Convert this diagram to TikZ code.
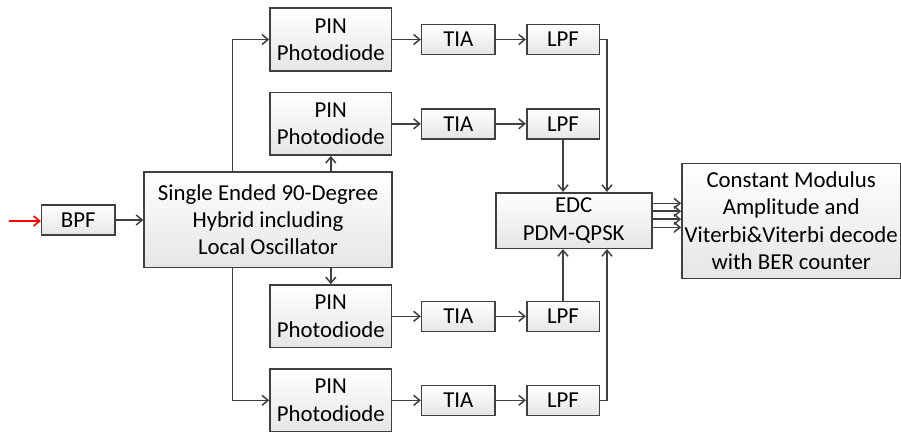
\documentclass[tikz,border=0pt]{standalone}
\usepackage{fontspec}
\setmainfont{Carlito}
\usetikzlibrary{arrows.meta}
\definecolor{bord}{HTML}{404040}
\begin{document}
\begin{tikzpicture}[x=1pt,y=-1pt,
  blk/.style={draw=bord, line width=1.6pt, top color=white, bottom color=black!10,
    inner sep=0pt, align=center, font=\fontsize{22.8}{27.3}\selectfont},
  conn/.style={draw=bord, line width=1.5pt, -{Straight Barb[length=6pt,width=10pt,line width=1.5pt]}},
  plain/.style={draw=bord, line width=1.5pt}]
\useasboundingbox (0,0) rectangle (901,432);
\node[blk, minimum width=73.3pt, minimum height=30pt] (bpf) at (78.3,220) {BPF};
\node[blk, minimum width=247.7pt, minimum height=95.6pt] (hyb) at (268,219.5) {Single Ended 90-Degree\\Hybrid including\\Local Oscillator};
\foreach \i/\y in {1/39.5,2/123.8,3/316.3,4/400.3}{
  \node[blk, minimum width=121.7pt, minimum height=62.5pt] (pin\i) at (330.8,\y) {PIN\\Photodiode};
  \node[blk, minimum width=73.3pt, minimum height=30pt] (tia\i) at (458.3,\y) {TIA};
  \node[blk, minimum width=72.6pt, minimum height=30pt] (lpf\i) at (563,\y) {LPF};
  \draw[conn] (pin\i) -- (tia\i);
  \draw[conn] (tia\i) -- (lpf\i);
}
\node[blk, minimum width=156pt, minimum height=55.6pt] (edc) at (573.7,220.5) {EDC\\PDM-QPSK};
\node[blk, minimum width=218.5pt, minimum height=115pt] (cm) at (791.2,220.8) {Constant Modulus\\Amplitude and\\Viterbi\&Viterbi decode\\with BER counter};
\coordinate (in) at (9,221);
\draw[draw=red, line width=1.8pt, -{Straight Barb[length=6pt,width=10pt,line width=1.6pt]}] (in) -- (bpf.west |- in);
\draw[conn] (bpf) -- (hyb.west |- bpf);
\draw[conn] (232.5,0 |- hyb.north) |- (pin1.west);
\draw[conn] (232.5,0 |- hyb.south) |- (pin4.west);
\draw[conn] (pin2.south |- hyb.north) -- (pin2.south);
\draw[conn] (pin3.north |- hyb.south) -- (pin3.north);
\draw[conn] (lpf1.east) -| (607,0 |- edc.north);
\draw[conn] (lpf4.east) -| (607,0 |- edc.south);
\draw[conn] (lpf2.south) -- (lpf2.south |- edc.north);
\draw[conn] (lpf3.north) -- (lpf3.north |- edc.south);
\foreach \y in {203.3,211.2,219.2,227.3}{
  \draw[conn] (edc.east |- 0,\y) -- (cm.west |- 0,\y);
}
\end{tikzpicture}
\end{document}
